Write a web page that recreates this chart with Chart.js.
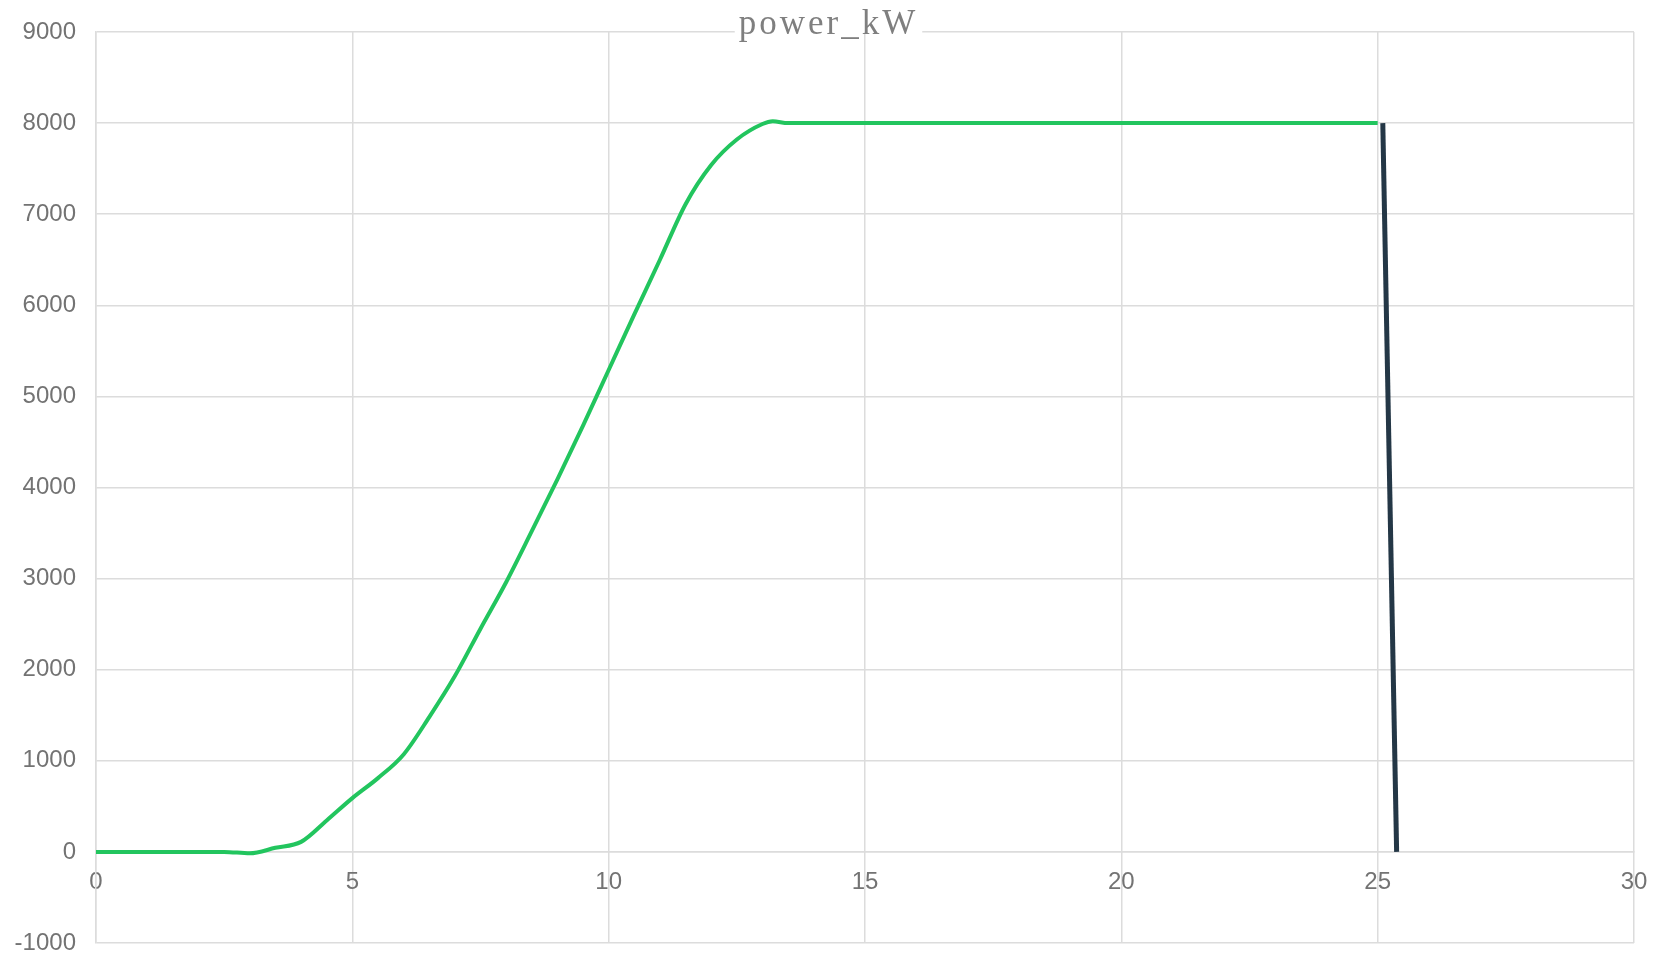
<!DOCTYPE html>
<html>
<head>
<meta charset="utf-8">
<script src="https://cdn.jsdelivr.net/npm/chart.js@4.4.1/dist/chart.umd.min.js"></script>
<style>
	html, body { margin: 0; padding: 0; background: #fff; }
	#wrap { width: 1657px; height: 955px; position: relative; }
</style>
</head>
<body>
<div id="wrap"><canvas id="power-chart"></canvas></div>
<script>
// wind speed (m/s) and power (kW)
const windSpeed = [
	0, 0.5, 1, 1.5, 2, 2.5, 3, 3.5, 4, 4.5, 5, 5.5, 6, 6.5, 7, 7.5, 8, 8.5, 9, 9.5,
	10, 10.5, 11, 11.5, 12, 12.5, 13, 13.2, 13.5, 14, 15, 16, 17, 18, 19, 20, 21, 22, 23, 24, 25
];
const powerKW = [
	0, 0, 0, 0, 0, 0, -15, 45, 110, 345, 590, 810, 1070, 1480, 1930, 2450, 2960, 3520, 4090, 4680,
	5290, 5900, 6500, 7110, 7540, 7820, 7990, 8020, 8000, 8000, 8000, 8000, 8000, 8000, 8000, 8000, 8000, 8000, 8000, 8000, 8000
];
// cut-out drop after 25 m/s
const cutoutSpeed = [25.1, 25.37];
const cutoutPower = [8000, 0];

const xTicks = [0, 5, 10, 15, 20, 25, 30];
const yTicks = [-1000, 0, 1000, 2000, 3000, 4000, 5000, 6000, 7000, 8000, 9000];
const chartTitle = 'power_kW';

function toPoints( xs, ys ) {
	return xs.map( ( x, i ) => ( { x: x, y: ys[ i ] } ) );
}

const gridColor = '#dcdcdc';
const tickColor = '#737373';
const tickFont = { family: 'Liberation Sans, Arial, sans-serif', size: 24 };

// keep the label overflow from eating into the plot area
function noPadding( scale ) {
	scale.paddingLeft = 0;
	scale.paddingRight = 0;
	scale.paddingTop = 0;
	scale.paddingBottom = 0;
}

const titlePlugin = {
	id: 'serifTitle',
	afterDraw( chart ) {
		const ctx = chart.ctx;
		ctx.save();
		ctx.font = '35px "Liberation Serif", "Times New Roman", serif';
		ctx.letterSpacing = '3px';
		const w = ctx.measureText( chartTitle ).width;
		const cx = chart.width / 2;
		ctx.fillStyle = '#ffffff';
		ctx.fillRect( cx - w / 2 - 4, 0, w + 8, 33.5 );
		ctx.fillStyle = '#7f7f7f';
		ctx.textAlign = 'center';
		ctx.textBaseline = 'alphabetic';
		ctx.fillText( chartTitle, cx, 34 );
		ctx.restore();
	},
};

const powerConfig = {
	type: 'line',
	data: {
		datasets: [
			{
				label: chartTitle,
				data: toPoints( windSpeed, powerKW ),
				borderColor: '#22c55e',
				borderWidth: 4,
				pointRadius: 0,
				cubicInterpolationMode: 'monotone',
				fill: false,
			},
			{
				label: 'cut-out',
				data: toPoints( cutoutSpeed, cutoutPower ),
				borderColor: '#243746',
				borderWidth: 5,
				borderCapStyle: 'butt',
				pointRadius: 0,
				fill: false,
			},
		],
	},
	options: {
		responsive: true,
		maintainAspectRatio: false,
		animation: false,
		layout: {
			padding: { left: 0, right: 23, top: 32, bottom: 12 },
		},
		plugins: {
			legend: { display: false },
			tooltip: { enabled: false },
			title: { display: false },
		},
		scales: {
			x: {
				type: 'linear',
				position: { y: 0 },
				min: 0,
				max: 30,
				afterBuildTicks: ( scale ) => {
					scale.ticks = xTicks.map( ( v ) => ( { value: v } ) );
				},
				afterFit: ( scale ) => {
					scale.height = 0;
					noPadding( scale );
				},
				grid: { color: gridColor, lineWidth: 1.5, drawTicks: false },
				border: { color: gridColor, width: 1.5 },
				ticks: {
					color: tickColor,
					font: tickFont,
					padding: 16,
					maxRotation: 0,
				},
			},
			y: {
				type: 'linear',
				min: -1000,
				max: 9000,
				afterBuildTicks: ( scale ) => {
					scale.ticks = yTicks.map( ( v ) => ( { value: v } ) );
				},
				afterFit: ( scale ) => {
					scale.width = 96;
					noPadding( scale );
				},
				grid: { color: gridColor, lineWidth: 1.5, drawTicks: false },
				border: { color: gridColor, width: 1.5 },
				ticks: {
					color: tickColor,
					font: tickFont,
					padding: 20,
					callback: ( v ) => String( v ),
				},
			},
		},
	},
	plugins: [ titlePlugin ],
};

const powerChart = new Chart(
	document.getElementById( 'power-chart' ),
	powerConfig
);
</script>
</body>
</html>
